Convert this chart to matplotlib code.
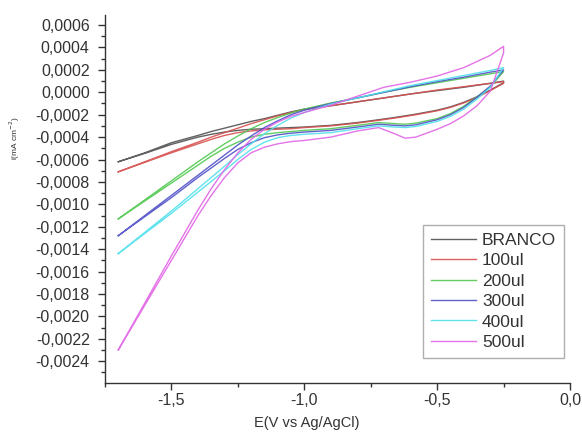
import numpy as np
import matplotlib
matplotlib.use("Agg")
import matplotlib.pyplot as plt
from matplotlib.ticker import MultipleLocator, FuncFormatter

plt.rcParams['font.family'] = ['Liberation Sans', 'DejaVu Sans']

# potential grid (V vs Ag/AgCl) for the two scan branches
E_UP = [-1.7, -1.6, -1.5, -1.4, -1.35, -1.3, -1.25, -1.2, -1.15, -1.1, -1.05, -1.0,
        -0.9, -0.8, -0.7, -0.6, -0.5, -0.4, -0.3, -0.25]
E_LOW = [-1.7, -1.6, -1.5, -1.4, -1.35, -1.3, -1.25, -1.2, -1.15, -1.1, -1.05, -1.0,
         -0.9, -0.8, -0.72, -0.66, -0.62, -0.58, -0.5, -0.45, -0.4, -0.35, -0.3, -0.25]

labels = ['BRANCO', '100ul', '200ul', '300ul', '400ul', '500ul']
colors = ['#505050', '#d85050', '#50c850', '#5050c8', '#50e0ec', '#e264e6']

# current, in units of 1e-4 mA cm-2
branco_up = [-6.2, -5.4, -4.5, -3.85, -3.5, -3.2, -2.9, -2.6, -2.35, -2.05, -1.75, -1.5,
             -1.2, -0.85, -0.5, -0.15, 0.15, 0.45, 0.8, 1.0]
branco_low = [-6.2, -5.45, -4.65, -4.0, -3.75, -3.55, -3.4, -3.3, -3.25, -3.2, -3.15, -3.1,
              -2.95, -2.7, -2.45, -2.25, -2.1, -1.95, -1.6, -1.3, -0.9, -0.4, 0.2, 0.85]
ul100_up = [-7.1, -6.2, -5.3, -4.45, -4.0, -3.6, -3.2, -2.8, -2.45, -2.1, -1.8, -1.55,
            -1.2, -0.85, -0.5, -0.15, 0.2, 0.5, 0.8, 0.95]
ul100_low = [-7.1, -6.25, -5.4, -4.6, -4.2, -3.85, -3.6, -3.45, -3.35, -3.3, -3.25, -3.15,
             -3.0, -2.75, -2.5, -2.3, -2.15, -2.0, -1.65, -1.35, -0.95, -0.45, 0.15, 0.8]
ul200_up = [-11.3, -9.6, -7.9, -6.2, -5.4, -4.6, -3.9, -3.25, -2.7, -2.25, -1.85, -1.5,
            -0.95, -0.5, 0.0, 0.45, 0.85, 1.25, 1.65, 1.85]
ul200_low = [-11.3, -9.7, -8.1, -6.5, -5.7, -5.0, -4.45, -4.0, -3.75, -3.6, -3.5, -3.4,
             -3.25, -2.95, -2.7, -2.8, -2.85, -2.75, -2.35, -1.9, -1.25, -0.4, 0.5, 1.85]
ul300_up = [-12.8, -11.0, -9.2, -7.4, -6.5, -5.6, -4.7, -3.9, -3.15, -2.55, -2.0, -1.6,
            -1.0, -0.5, 0.0, 0.5, 0.95, 1.35, 1.8, 2.0]
ul300_low = [-12.8, -11.1, -9.4, -7.6, -6.75, -5.9, -5.1, -4.5, -4.05, -3.8, -3.65, -3.55,
             -3.4, -3.1, -2.85, -2.95, -3.0, -2.9, -2.45, -2.0, -1.35, -0.45, 0.55, 2.0]
ul400_up = [-14.4, -12.5, -10.6, -8.6, -7.6, -6.6, -5.55, -4.6, -3.7, -2.95, -2.3, -1.8,
            -1.05, -0.5, 0.05, 0.6, 1.05, 1.5, 1.95, 2.2]
ul400_low = [-14.4, -12.6, -10.8, -8.9, -7.95, -7.0, -6.0, -5.1, -4.45, -4.05, -3.85, -3.75,
             -3.6, -3.25, -3.0, -3.1, -3.15, -3.05, -2.6, -2.15, -1.5, -0.6, 0.45, 2.2]
ul500_up = [-23.0, -18.8, -14.6, -10.5, -8.6, -6.9, -5.4, -4.2, -3.3, -2.65, -2.15, -1.8,
            -1.15, -0.35, 0.45, 0.9, 1.45, 2.2, 3.3, 4.1]
ul500_low = [-23.0, -19.0, -15.0, -11.0, -9.2, -7.6, -6.3, -5.4, -4.9, -4.6, -4.4, -4.3,
             -4.0, -3.45, -3.15, -3.7, -4.1, -4.0, -3.3, -2.8, -2.1, -1.2, 0.1, 3.5]

ups = [branco_up, ul100_up, ul200_up, ul300_up, ul400_up, ul500_up]
lows = [branco_low, ul100_low, ul200_low, ul300_low, ul400_low, ul500_low]


def comma_fmt(decimals):
    def f(v, pos):
        s = f"{v:.{decimals}f}".replace('.', ',')
        if s.startswith('-') and float(s[1:].replace(',', '.')) == 0:
            s = s[1:]
        return s
    return FuncFormatter(f)


fig = plt.figure(figsize=(5.82, 4.34), dpi=100)
ax = fig.add_axes([105 / 582, 51 / 434, 465 / 582, 368 / 434])

for lab, col, up, low in zip(labels, colors, ups, lows):
    # one closed sweep: forward along the upper branch, back along the lower one
    x = list(E_UP) + list(E_LOW[::-1])
    y = np.array(list(up) + list(low[::-1])) * 1e-4
    ax.plot(x, y, color=col, lw=1.0, alpha=0.9, label=lab)

ax.set_xlim(-1.75, 0.0)
ax.set_ylim(-0.002595, 0.00069)

ax.xaxis.set_major_locator(MultipleLocator(0.5))
ax.xaxis.set_minor_locator(MultipleLocator(0.25))
ax.yaxis.set_major_locator(MultipleLocator(0.0002))
ax.yaxis.set_minor_locator(MultipleLocator(0.0001))
ax.xaxis.set_major_formatter(comma_fmt(1))
ax.yaxis.set_major_formatter(comma_fmt(4))

for side in ['top', 'right']:
    ax.spines[side].set_visible(False)
for side in ['left', 'bottom']:
    ax.spines[side].set_color('#333333')
    ax.spines[side].set_linewidth(1.0)

ax.tick_params(which='major', direction='out', length=5, width=1.0, color='#333333',
               labelsize=11.5, labelcolor='#333333', pad=6)
ax.tick_params(axis='x', which='major', pad=2)
ax.tick_params(which='minor', direction='out', length=3, width=1.0, color='#333333')

ax.set_xlabel('E(V vs Ag/AgCl)', fontsize=10.5, color='#333333')
ax.xaxis.set_label_coords(0.434, -0.09)
fig.text(15 / 582, 1 - 138 / 434, 'i(mA cm$^{-2}$)', rotation=90, fontsize=6,
         color='#333333', ha='center', va='center')

leg = ax.legend(loc='upper left', bbox_to_anchor=(0.684, 0.429), borderaxespad=0,
                fontsize=12.5, handlelength=2.6, handletextpad=0.35, labelspacing=0.3,
                borderpad=0.45, frameon=True, fancybox=False)
leg.get_frame().set_edgecolor('#9a9a9a')
leg.get_frame().set_linewidth(1.0)
for t in leg.get_texts():
    t.set_color('#333333')

fig.savefig('out.png', dpi=100)
